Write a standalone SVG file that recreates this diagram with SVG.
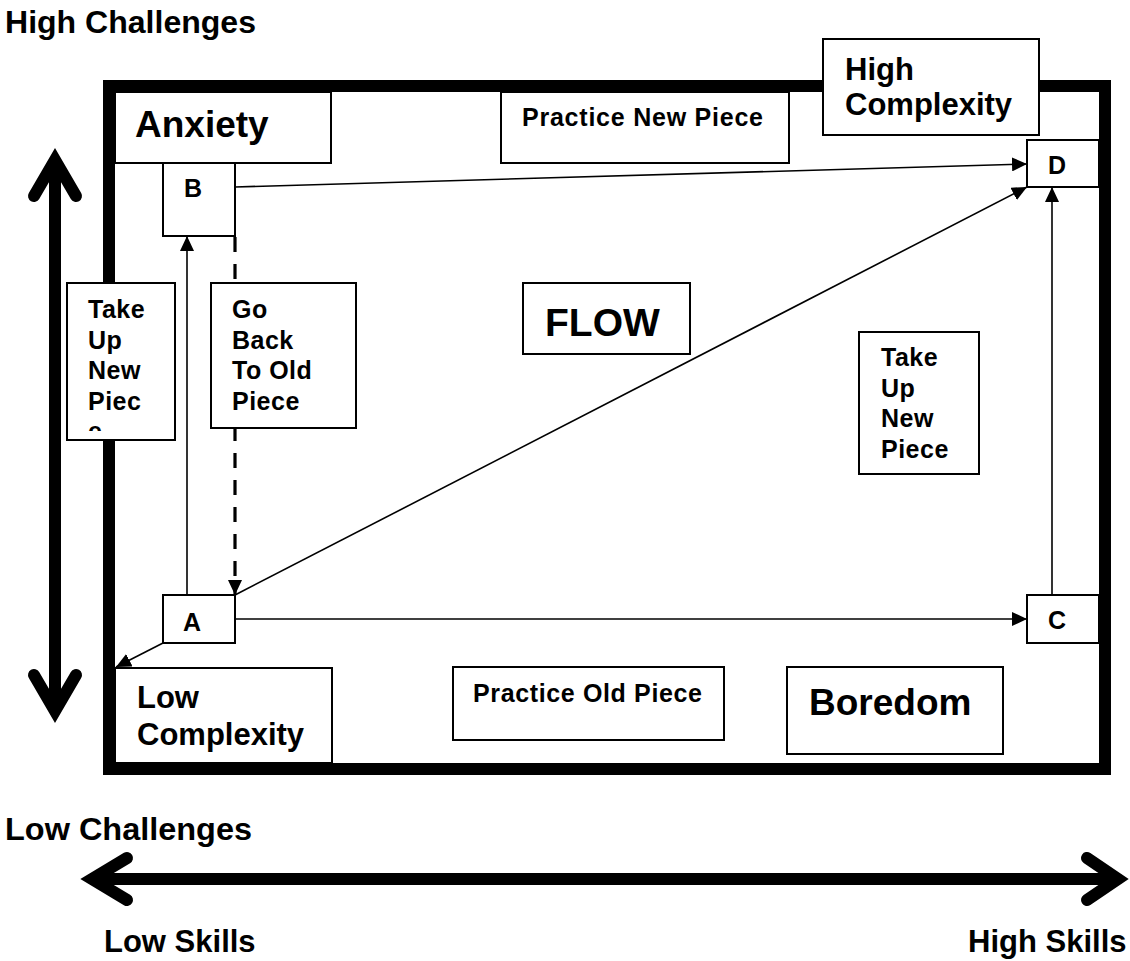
<svg xmlns="http://www.w3.org/2000/svg" width="1130" height="961" viewBox="0 0 1130 961">
<style>
text{font-family:"Liberation Sans",Arial,sans-serif;font-weight:bold;fill:#000}
.box{fill:#fff;stroke:#000;stroke-width:2}
.conn{stroke:#000;stroke-width:1.6;fill:none}
.dash{stroke:#000;stroke-width:3.2;stroke-dasharray:15,12;fill:none}
.big{stroke:#000;stroke-width:12;fill:none;stroke-linecap:round;stroke-linejoin:miter}
.s24{font-size:25px;letter-spacing:0.5px}
.s31{font-size:31px}
.s36{font-size:37px}
</style>
<defs>
<marker id="ah" markerUnits="userSpaceOnUse" markerWidth="15" markerHeight="14" refX="15" refY="7" orient="auto">
<path d="M0,0 L15,7 L0,14 z" fill="#000"/>
</marker>
<clipPath id="clipL"><rect x="67" y="283" width="108" height="148"/></clipPath>
</defs>

<g id="axes">
<text class="s31" x="5" y="33" textLength="251" lengthAdjust="spacingAndGlyphs">High Challenges</text>
<text class="s31" x="5" y="840" textLength="247" lengthAdjust="spacingAndGlyphs">Low Challenges</text>
<text class="s31" x="104" y="952">Low Skills</text>
<text class="s31" x="968" y="952">High Skills</text>
<path class="big" d="M55,162 V710"/>
<polyline class="big" points="34,196 55,160 76,196"/>
<polyline class="big" points="34,675 55,711 76,675"/>
<path class="big" d="M93,879 H1117"/>
<polyline class="big" points="127,858 92,879 127,900"/>
<polyline class="big" points="1087,858 1118,879 1087,900"/>
</g>

<rect id="frame" x="109" y="86" width="996" height="683" fill="none" stroke="#000" stroke-width="12"/>

<g id="connectors">
<line class="conn" x1="187" y1="595" x2="187" y2="236" marker-end="url(#ah)"/>
<line class="dash" x1="235" y1="237" x2="235" y2="595" marker-end="url(#ah)"/>
<line class="conn" x1="235" y1="595" x2="1027" y2="187" marker-end="url(#ah)"/>
<line class="conn" x1="235" y1="187" x2="1027" y2="164" marker-end="url(#ah)"/>
<line class="conn" x1="1052" y1="595" x2="1052" y2="187" marker-end="url(#ah)"/>
<line class="conn" x1="235" y1="619" x2="1027" y2="619" marker-end="url(#ah)"/>
<line class="conn" x1="163" y1="643" x2="116" y2="667" marker-end="url(#ah)"/>
</g>

<g id="anxiety"><rect class="box" x="115" y="92" width="216" height="71"/><text class="s36" x="135" y="137">Anxiety</text></g>
<g id="practice-new"><rect class="box" x="501" y="92" width="288" height="71"/><text x="522" y="126" font-size="25px" textLength="241" lengthAdjust="spacing">Practice New Piece</text></g>
<g id="high-complexity"><rect class="box" x="823" y="39" width="216" height="96"/><text class="s31" x="845" y="80">High</text><text class="s31" x="845" y="115">Complexity</text></g>
<g id="node-b"><rect class="box" x="163" y="163" width="72" height="73"/><text class="s24" x="184" y="197">B</text></g>
<g id="node-d"><rect class="box" x="1027" y="140" width="72" height="47"/><text class="s24" x="1048" y="174">D</text></g>
<g id="take-up-left"><rect class="box" x="67" y="283" width="108" height="157"/>
<g clip-path="url(#clipL)"><text class="s24" x="88" y="318">Take</text><text class="s24" x="88" y="348.5">Up</text><text class="s24" x="88" y="379">New</text><text class="s24" x="88" y="409.5">Piec</text><text class="s24" x="88" y="440">e</text></g></g>
<g id="go-back"><rect class="box" x="211" y="283" width="145" height="145"/><text class="s24" x="232" y="318">Go</text><text class="s24" x="232" y="348.5">Back</text><text class="s24" x="232" y="379">To Old</text><text class="s24" x="232" y="409.5">Piece</text></g>
<g id="flow"><rect class="box" x="523" y="283" width="167" height="71"/><text x="545" y="336" font-size="39px">FLOW</text></g>
<g id="take-up-right"><rect class="box" x="859" y="332" width="120" height="142"/><text class="s24" x="881" y="366">Take</text><text class="s24" x="881" y="396.5">Up</text><text class="s24" x="881" y="427">New</text><text class="s24" x="881" y="457.5">Piece</text></g>
<g id="node-a"><rect class="box" x="163" y="595" width="72" height="48"/><text class="s24" x="183" y="631">A</text></g>
<g id="node-c"><rect class="box" x="1027" y="595" width="72" height="48"/><text class="s24" x="1048" y="629">C</text></g>
<g id="low-complexity"><rect class="box" x="115" y="668" width="217" height="95"/><text class="s31" x="137" y="708">Low</text><text class="s31" x="137" y="745">Complexity</text></g>
<g id="practice-old"><rect class="box" x="453" y="667" width="271" height="73"/><text x="473" y="702" font-size="25px" textLength="229" lengthAdjust="spacing">Practice Old Piece</text></g>
<g id="boredom"><rect class="box" x="787" y="667" width="216" height="87"/><text class="s36" x="809" y="715">Boredom</text></g>
</svg>
